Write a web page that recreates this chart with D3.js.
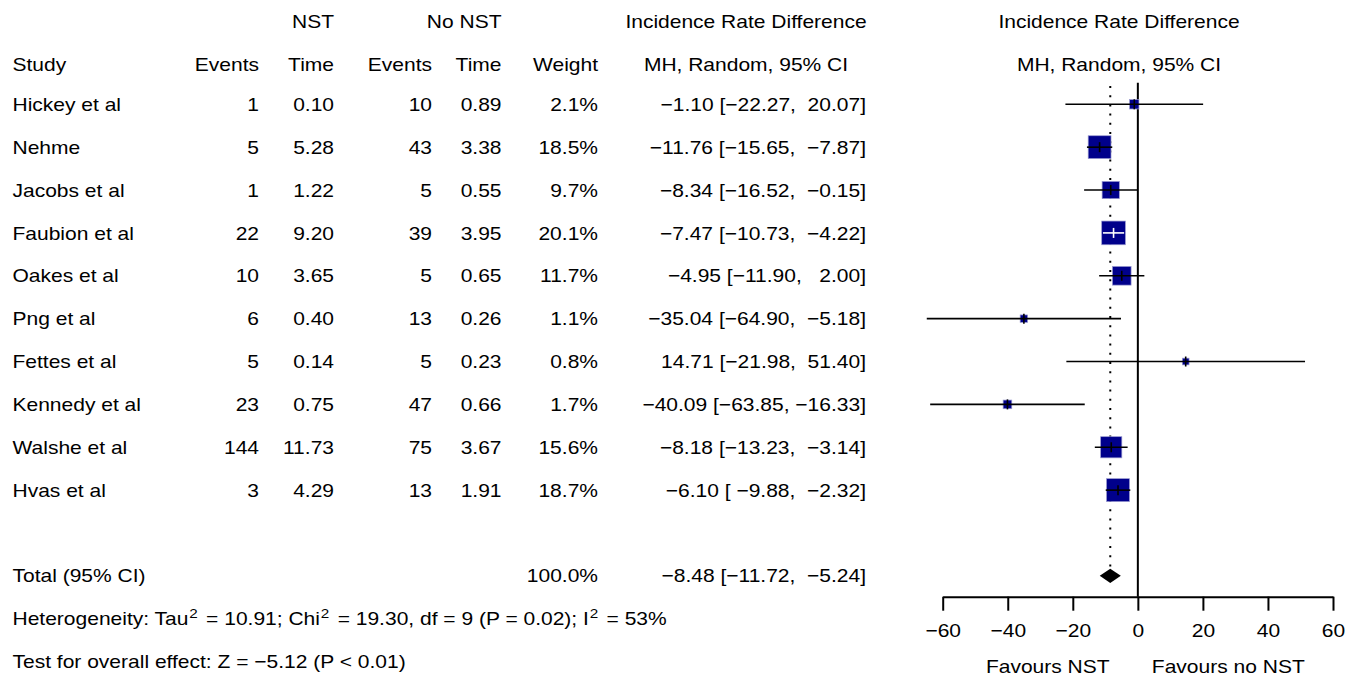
<!DOCTYPE html>
<html><head><meta charset="utf-8">
<script src="https://cdn.jsdelivr.net/npm/d3@7"></script>
<style>
body{margin:0;background:#fff}
text{font-family:"Liberation Sans",Arial,Helvetica,sans-serif;font-size:18.6px;fill:#000;white-space:pre}
</style>
</head><body>
<svg id="c" width="1355" height="676"></svg>
<script>
// ---------- data ----------
const studies = ["Hickey et al","Nehme","Jacobs et al","Faubion et al","Oakes et al","Png et al","Fettes et al","Kennedy et al","Walshe et al","Hvas et al"];
const eventsNST = [1,5,1,22,10,6,5,23,144,3];
const timeNST = ["0.10","5.28","1.22","9.20","3.65","0.40","0.14","0.75","11.73","4.29"];
const eventsNoNST = [10,43,5,39,5,13,5,47,75,13];
const timeNoNST = ["0.89","3.38","0.55","3.95","0.65","0.26","0.23","0.66","3.67","1.91"];
const weights = [2.1,18.5,9.7,20.1,11.7,1.1,0.8,1.7,15.6,18.7];
const estimates = [-1.10,-11.76,-8.34,-7.47,-4.95,-35.04,14.71,-40.09,-8.18,-6.10];
const lowerCI = [-22.27,-15.65,-16.52,-10.73,-11.90,-64.90,-21.98,-63.85,-13.23,-9.88];
const upperCI = [20.07,-7.87,-0.15,-4.22,2.00,-5.18,51.40,-16.33,-3.14,-2.32];
const totalEst = -8.48, totalLo = -11.72, totalHi = -5.24, totalWeight = "100.0%";
const xTicks = [-60,-40,-20,0,20,40,60];
const hetText = [["Heterogeneity: Tau",""],["2","sup"],[" = 10.91; Chi",""],["2","sup"],[" = 19.30, df = 9 (P = 0.02); I",""],["2","sup"],[" = 53%",""]];
const testText = "Test for overall effect: Z = \u22125.12 (P < 0.01)";

// ---------- helpers ----------
const SX = 1.13;
const svg = d3.select("#c");
const minus = s => s.replace(/-/g, "\u2212");
const f2 = v => minus(v.toFixed(2));
const pad = (s, n) => " ".repeat(Math.max(0, n - s.length)) + s;
const ciStr = (e, l, u) => `${f2(e)} [${pad(f2(l),6)}, ${pad(f2(u),6)}]`;
function txt(x, y, s, anchor) {
  return svg.append("text")
    .attr("transform", `translate(${x},${y}) scale(${SX},1)`)
    .attr("text-anchor", anchor || "start")
    .text(s);
}

// ---------- layout scales ----------
const row = d3.scaleLinear().domain([0, 1]).range([104.3, 147.17]);
const BL = 6.6; // baseline offset
const x = d3.scaleLinear().domain([-60, 60]).range([942.7, 1333]);
const side = d3.scalePow().exponent(0.5).domain([0.8, 20.1]).range([6.7, 23.7]);

const col = {study: 12.5, evN: 259, tN: 334, evC: 432, tC: 501.5, w: 598, ci: 866, ciHead: 746, rHead: 1119};

// ---------- headers ----------
const h1 = 21.3 + BL, h2 = 64.5 + BL;
txt(col.tN, h1, "NST", "end");
txt(col.tC, h1, "No NST", "end");
txt(col.ciHead, h1, "Incidence Rate Difference", "middle");
txt(col.rHead, h1, "Incidence Rate Difference", "middle");
txt(col.study, h2, "Study");
txt(col.evN, h2, "Events", "end");
txt(col.tN, h2, "Time", "end");
txt(col.evC, h2, "Events", "end");
txt(col.tC, h2, "Time", "end");
txt(col.w, h2, "Weight", "end");
txt(col.ciHead, h2, "MH, Random, 95% CI", "middle");
txt(col.rHead, h2, "MH, Random, 95% CI", "middle");

// ---------- study rows text ----------
studies.forEach((s, i) => {
  const y = row(i) + BL;
  txt(col.study, y, s);
  txt(col.evN, y, String(eventsNST[i]), "end");
  txt(col.tN, y, timeNST[i], "end");
  txt(col.evC, y, String(eventsNoNST[i]), "end");
  txt(col.tC, y, timeNoNST[i], "end");
  txt(col.w, y, weights[i].toFixed(1) + "%", "end");
  txt(col.ci, y, ciStr(estimates[i], lowerCI[i], upperCI[i]), "end");
});

// total row
const yT = row(11);
txt(col.study, yT + BL, "Total (95% CI)");
txt(col.w, yT + BL, totalWeight, "end");
txt(col.ci, yT + BL, ciStr(totalEst, totalLo, totalHi), "end");

// heterogeneity
const het = txt(col.study, row(12) + BL, "");
let prevSup = false;
hetText.forEach(([s, t], k) => {
  if (t === "sup") {
    het.append("tspan").attr("dy", -7.5).attr("dx", 0.8).style("font-size", "13.5px").text(s);
    prevSup = true;
  } else {
    het.append("tspan").attr("dy", prevSup ? 7.5 : 0).attr("dx", prevSup ? 2.2 : 0).text(s);
    prevSup = false;
  }
});
txt(col.study, row(13) + BL, testText);

// ---------- plot ----------
const axisY = 596.7;
// dotted line at pooled estimate
svg.append("line")
  .attr("x1", x(totalEst)).attr("x2", x(totalEst))
  .attr("y1", 86).attr("y2", 568)
  .attr("stroke", "#000").attr("stroke-width", 2)
  .attr("stroke-dasharray", "2,7.2");
// zero line
svg.append("line")
  .attr("x1", x(0)).attr("x2", x(0))
  .attr("y1", 82.7).attr("y2", axisY)
  .attr("stroke", "#000").attr("stroke-width", 2);

const data = studies.map((s, i) => ({
  y: row(i), e: estimates[i], l: lowerCI[i], u: upperCI[i], w: weights[i]
}));
const g = svg.append("g");
data.forEach(d => {
  const cx = x(d.e), sz = side(d.w);
  const inside = x(d.l) >= cx - sz / 2 && x(d.u) <= cx + sz / 2;
  const c = inside ? "#fff" : "#000";
  g.append("rect")
    .attr("x", cx - sz / 2).attr("y", d.y - sz / 2)
    .attr("width", sz).attr("height", sz)
    .attr("fill", "#00008B").attr("stroke", "#9a9ad0").attr("stroke-width", 0.7);
  g.append("line")
    .attr("x1", x(d.l)).attr("x2", x(d.u))
    .attr("y1", d.y).attr("y2", d.y)
    .attr("stroke", c).attr("stroke-width", 1.6);
  g.append("line")
    .attr("x1", cx).attr("x2", cx)
    .attr("y1", d.y - 5).attr("y2", d.y + 5)
    .attr("stroke", c).attr("stroke-width", 1.6);
});

// diamond
const dh = 7.2;
svg.append("path")
  .attr("d", `M${x(totalLo)},${yT}L${x(totalEst)},${yT - dh}L${x(totalHi)},${yT}L${x(totalEst)},${yT + dh}Z`)
  .attr("fill", "#000");

// axis
const ax = svg.append("g")
  .attr("transform", `translate(0,${axisY})`)
  .call(d3.axisBottom(x).tickValues(xTicks).tickSize(14).tickSizeOuter(0)
    .tickFormat(v => minus(String(v))));
ax.attr("font-size", null).attr("font-family", null);
ax.select(".domain").attr("stroke", "#000").attr("stroke-width", 2);
ax.selectAll(".tick line").attr("stroke", "#000").attr("stroke-width", 2);
ax.selectAll(".tick text")
  .attr("y", 40).attr("dy", 0)
  .attr("transform", `scale(${SX},1)`);

txt(x(-27.7), 673, "Favours NST", "middle");
txt(x(27.8), 673, "Favours no NST", "middle");
</script>
</body></html>
